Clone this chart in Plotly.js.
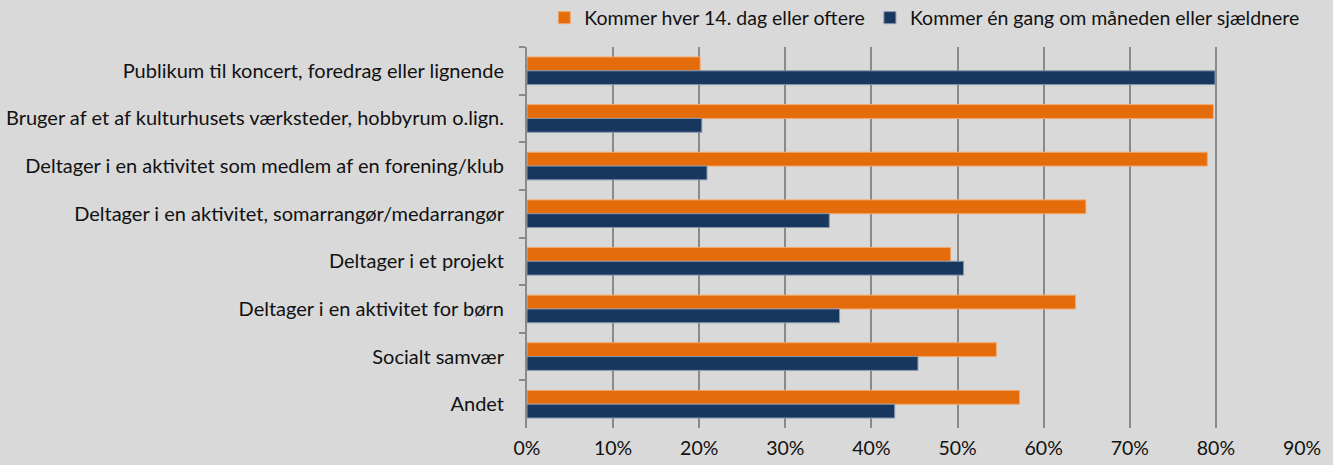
<!DOCTYPE html>
<html>
<head>
<meta charset="utf-8">
<script src="https://cdn.plot.ly/plotly-3.0.1.min.js"></script>
<style>
html,body{margin:0;padding:0;background:#d9d9d9;}
#chart{width:1333px;height:465px;}
</style>
</head>
<body>
<div id="chart"></div>
<script>
const categories = [
  "Publikum til koncert, foredrag eller lignende",
  "Bruger af et af kulturhusets værksteder, hobbyrum o.lign.",
  "Deltager i en aktivitet som medlem af en forening/klub",
  "Deltager i en aktivitet, somarrangør/medarrangør",
  "Deltager i et projekt",
  "Deltager i en aktivitet for børn",
  "Socialt samvær",
  "Andet"
];
const seriesNames = [
  "Kommer hver 14. dag eller oftere",
  "Kommer én gang om måneden eller sjældnere"
];
const oftenValues = [0.201, 0.797, 0.790, 0.649, 0.492, 0.637, 0.545, 0.572];
const rarelyValues = [0.799, 0.203, 0.209, 0.351, 0.507, 0.363, 0.454, 0.427];
const xTickValues = [0, 0.1, 0.2, 0.3, 0.4, 0.5, 0.6, 0.7, 0.8, 0.9];
const xTickLabels = ["0%", "10%", "20%", "30%", "40%", "50%", "60%", "70%", "80%", "90%"];

const font = "Lato, 'Open Sans', sans-serif";
const fs = 19.5;

const traces = [
  {
    type: "bar", orientation: "h", name: seriesNames[0],
    y: categories, x: oftenValues,
    marker: {color: "#E46C0A", line: {color: "#F2A66A", width: 1}},
    hoverinfo: "x+y"
  },
  {
    type: "bar", orientation: "h", name: seriesNames[1],
    y: categories, x: rarelyValues,
    marker: {color: "#17375E", line: {color: "#8596AC", width: 1}},
    hoverinfo: "x+y"
  }
];

const layout = {
  width: 1333, height: 465,
  paper_bgcolor: "#d9d9d9", plot_bgcolor: "#d9d9d9",
  margin: {l: 527, r: 31, t: 47, b: 37, pad: 0, autoexpand: false},
  font: {family: font, size: fs, color: "#111111"},
  barmode: "group",
  bargap: 0.42,
  bargroupgap: 0,
  showlegend: true,
  legend: {
    orientation: "h", x: 1.003, xanchor: "right", y: 1.025, yanchor: "bottom",
    bgcolor: "rgba(0,0,0,0)", font: {family: font, size: fs, color: "#111111"},
    itemwidth: 30, tracegroupgap: 0, traceorder: "normal"
  },
  xaxis: {
    range: [0, 0.9], tickvals: xTickValues, ticktext: xTickLabels,
    showgrid: true, gridcolor: "#8a8a8a", gridwidth: 2,
    zeroline: false, showline: false, ticks: "", ticklabelstandoff: 6,
    tickfont: {family: font, size: fs, color: "#111111"}, fixedrange: true
  },
  yaxis: {
    type: "category", autorange: "reversed",
    showgrid: false, zeroline: false,
    showline: true, linecolor: "#8a8a8a", linewidth: 2,
    ticks: "outside", tickson: "boundaries", ticklen: 6, tickcolor: "#8a8a8a", tickwidth: 2,
    ticklabelstandoff: 17,
    tickfont: {family: font, size: 20, color: "#111111"}, fixedrange: true
  }
};

Plotly.newPlot("chart", traces, layout, {displayModeBar: false, staticPlot: true});
</script>
</body>
</html>
